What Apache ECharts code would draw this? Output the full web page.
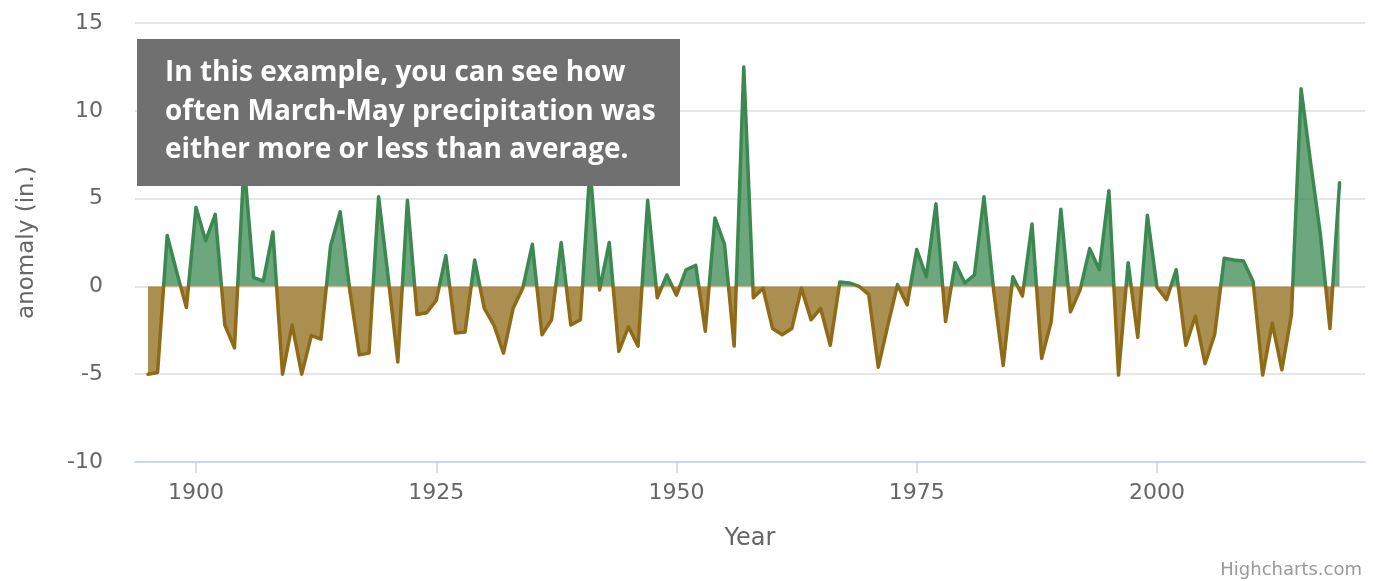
<!DOCTYPE html>
<html>
<head>
<meta charset="utf-8">
<script src="https://cdn.jsdelivr.net/npm/echarts@6/dist/echarts.min.js"></script>
<style>
html,body{margin:0;padding:0;background:#fff;}
#chart{width:1373px;height:581px;}
</style>
</head>
<body>
<div id="chart"></div>
<script>
// ---- data ----
var firstYear = 1895;
var anomaly = [
  -5.0, -4.9, 2.9, 0.8, -1.2,            // 1895-1899
  4.5, 2.6, 4.1, -2.2, -3.5,             // 1900-1904
  7.0, 0.5, 0.3, 3.1, -5.0,              // 1905-1909
  -2.2, -5.0, -2.8, -3.0, 2.3,           // 1910-1914
  4.25, -0.2, -3.9, -3.8, 5.1,           // 1915-1919
  0.5, -4.3, 4.9, -1.6, -1.5,            // 1920-1924
  -0.8, 1.75, -2.65, -2.6, 1.5,          // 1925-1929
  -1.25, -2.2, -3.8, -1.25, -0.1,        // 1930-1934
  2.4, -2.75, -1.9, 2.5, -2.2,           // 1935-1939
  -1.9, 6.8, -0.2, 2.5, -3.7,            // 1940-1944
  -2.3, -3.4, 4.9, -0.65, 0.65,          // 1945-1949
  -0.5, 0.95, 1.2, -2.55, 3.9,           // 1950-1954
  2.4, -3.4, 12.5, -0.65, -0.1,          // 1955-1959
  -2.4, -2.75, -2.4, -0.1, -1.9,         // 1960-1964
  -1.25, -3.35, 0.25, 0.2, 0.0,          // 1965-1969
  -0.45, -4.6, -2.2, 0.1, -1.05,         // 1970-1974
  2.1, 0.55, 4.7, -2.0, 1.35,            // 1975-1979
  0.2, 0.65, 5.1, -0.2, -4.5,            // 1980-1984
  0.55, -0.55, 3.55, -4.1, -2.0,         // 1985-1989
  4.4, -1.45, -0.2, 2.15, 0.95,          // 1990-1994
  5.45, -5.05, 1.35, -2.9, 4.05,         // 1995-1999
  -0.05, -0.75, 0.95, -3.35, -1.7,       // 2000-2004
  -4.4, -2.75, 1.6, 1.5, 1.45,           // 2005-2009
  0.3, -5.05, -2.1, -4.75, -1.6,         // 2010-2014
  11.25, 7.0, 3.0, -2.4, 5.9             // 2015-2019
];
var years = anomaly.map(function (v, i) { return firstYear + i; });
var xTickValues = [1900, 1925, 1950, 1975, 2000];
var yTicks = { min: -10, max: 15, step: 5 };
var annotationText = 'In this example, you can see how\noften March-May precipitation was\neither more or less than average.';
var xTitle = 'Year';
var yTitle = 'anomaly (in.)';
var creditText = 'Highcharts.com';

var points = years.map(function (y, i) { return [y, anomaly[i]]; });

var chart = echarts.init(document.getElementById('chart'), null, { renderer: 'canvas' });
var labelFont = '"DejaVu Sans", "Lucida Grande", sans-serif';

chart.setOption({
  animation: false,
  backgroundColor: '#ffffff',
  grid: { left: 135, right: 8, top: 23, bottom: 119, containLabel: false },
  xAxis: {
    type: 'value',
    min: 1893.65,
    max: 2021.65,
    name: xTitle,
    nameLocation: 'middle',
    nameGap: 65,
    nameTextStyle: { color: '#666666', fontSize: 24, fontFamily: labelFont },
    axisLine: { show: true, onZero: false, lineStyle: { color: '#ccd6eb', width: 2 } },
    axisTick: { show: true, length: 11, customValues: xTickValues, lineStyle: { color: '#ccd6eb', width: 1.5 } },
    axisLabel: {
      customValues: xTickValues, margin: 20, color: '#666666', fontSize: 22, fontFamily: labelFont,
      formatter: function (v) { return String(v); }
    },
    splitLine: { show: false }
  },
  yAxis: {
    type: 'value',
    min: yTicks.min,
    max: yTicks.max,
    interval: yTicks.step,
    name: yTitle,
    nameLocation: 'middle',
    nameGap: 96,
    nameRotate: 90,
    nameTextStyle: { color: '#666666', fontSize: 23, fontFamily: labelFont },
    axisLine: { show: false },
    axisTick: { show: false },
    axisLabel: { margin: 32, color: '#666666', fontSize: 22, fontFamily: labelFont },
    splitLine: { show: true, lineStyle: { color: '#e6e6e6', width: 2 } }
  },
  visualMap: {
    type: 'piecewise',
    show: false,
    dimension: 1,
    seriesIndex: 0,
    pieces: [
      { gte: -100, lt: 0, color: '#8f6a17' },
      { gte: 0, lte: 100, color: '#3b8951' }
    ]
  },
  series: [{
    type: 'line',
    data: points,
    showSymbol: false,
    symbol: 'none',
    smooth: false,
    lineStyle: { width: 3.5, join: 'round', cap: 'round' },
    areaStyle: { opacity: 0.75 },
    z: 2
  }],
  graphic: [
    {
      type: 'rect',
      left: 137, top: 39,
      shape: { width: 543, height: 147 },
      style: { fill: '#707070' },
      z: 100
    },
    {
      type: 'text',
      left: 165, top: 54,
      style: {
        text: annotationText,
        fill: '#ffffff',
        font: 'bold 28px "Open Sans", sans-serif',
        lineHeight: 38.5
      },
      z: 101
    },
    {
      type: 'text',
      right: 11, bottom: 2,
      style: {
        text: creditText,
        fill: '#999999',
        font: '18px ' + labelFont
      },
      z: 101
    }
  ]
});
</script>
</body>
</html>
